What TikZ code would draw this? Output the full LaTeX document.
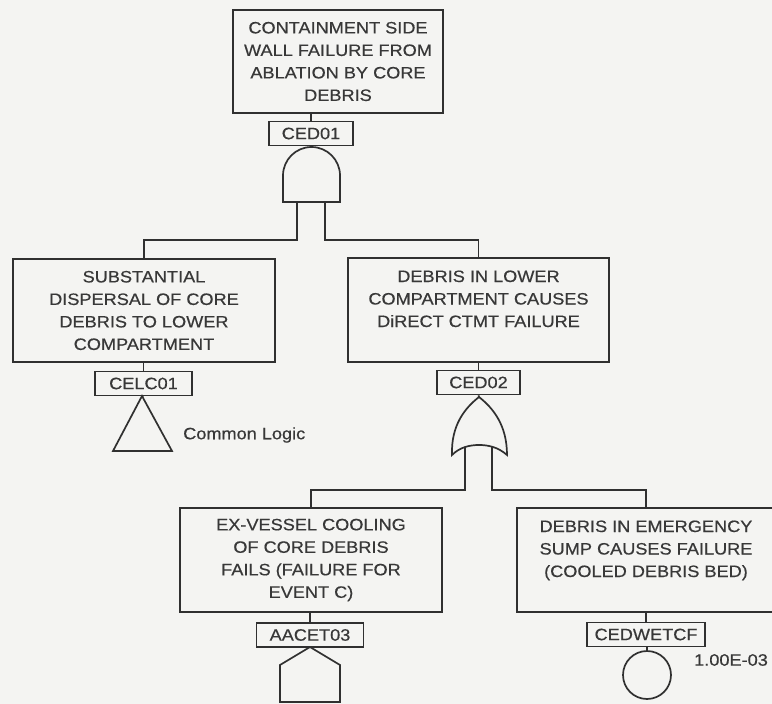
\documentclass[tikz,border=0pt]{standalone}
\usepackage{fontspec}
\setmainfont{Liberation Sans}[FakeStretch=1.1,FakeBold=0.5]
\definecolor{ftink}{HTML}{303030}
\definecolor{ftpaper}{HTML}{F4F4F2}
\definecolor{fttext}{HTML}{383838}

\tikzset{
  evbox/.style={draw=ftink,line width=1.7pt,minimum width=262,minimum height=104,
                align=center,inner sep=0pt},
  tagbox/.style={draw=ftink,line width=1.7pt,minimum height=24,inner sep=0pt},
  wire/.style={ftink,line width=1.7pt},
}

\begin{document}
\begin{tikzpicture}[x=1pt,y=-1pt,font=\fontsize{16.5}{22.5}\selectfont,text=fttext]

  % ---- paper ----
  \fill[ftpaper] (0,0) rectangle (772,704);
  \useasboundingbox (0,0) rectangle (772,704);

  % ---- event boxes ----
  \node[evbox,minimum width=210,minimum height=103] (top) at (338,61.5)
        {CONTAINMENT SIDE\\WALL FAILURE FROM\\ABLATION BY CORE\\DEBRIS};
  \node[evbox,minimum height=103] (sub) at (144,310.5)
        {SUBSTANTIAL\\DISPERSAL OF CORE\\DEBRIS TO LOWER\\COMPARTMENT};
  \node[evbox,minimum width=261] (dlc) at (478.5,310)
        {DEBRIS IN LOWER\\COMPARTMENT CAUSES\\DiRECT CTMT FAILURE\\~};
  \node[evbox] (exv) at (311,560)
        {EX-VESSEL COOLING\\OF CORE DEBRIS\\FAILS (FAILURE FOR\\EVENT C)};
  \node[evbox,minimum width=258] (sump) at (646,560)
        {DEBRIS IN EMERGENCY\\SUMP CAUSES FAILURE\\(COOLED DEBRIS BED)\\~};

  % ---- tags ----
  \node[tagbox,minimum width=84] (ced01) at (311,133.5) {CED01};
  \node[tagbox,minimum width=97] (celc01) at (143.5,383.5) {CELC01};
  \node[tagbox,minimum width=83] (ced02) at (478.5,382.5) {CED02};
  \node[tagbox,minimum width=107] (aacet03) at (310,635) {AACET03};
  \node[tagbox,minimum width=118] (cedwetcf) at (646,634.5) {CEDWETCF};

  % ---- AND gate ----
  \coordinate (andtop) at (311.5,147);
  \coordinate (andL) at (297,202);
  \coordinate (andR) at (325,202);
  \draw[wire,fill=ftpaper] (283,202) -- (283,175.5)
        .. controls (283,159.8) and (295.8,147) .. (andtop)
        .. controls (327.2,147) and (340,159.8) .. (340,175.5)
        -- (340,202) -- cycle;

  % ---- OR gate ----
  \coordinate (ortop) at (479,397);
  \coordinate (orL) at (465,447);
  \coordinate (orR) at (492,447);
  \draw[wire,fill=ftpaper] (452,455)
        .. controls (451,425) and (465,408) .. (ortop)
        .. controls (493,408) and (507,425) .. (507,455)
        .. controls (498,447) and (488,445) .. (479,445)
        .. controls (470,445) and (460,447) .. cycle;

  % ---- transfer triangle, house event, basic event ----
  \coordinate (triapex) at (142,396);
  \draw[wire] (triapex) -- (172,451) -- (113,451) -- cycle;
  \coordinate (houseapex) at (310,647);
  \draw[wire] (houseapex) -- (340,665) -- (340,702) -- (280,702) -- (280,665) -- cycle;
  \node[draw=ftink,line width=1.7pt,circle,minimum size=48,inner sep=0pt] (basic) at (647,675) {};

  % ---- connectors ----
  \draw[wire] (top.south -| ced01.north) -- (ced01.north);
  \draw[wire] (ced01.south) -- (andtop);
  \draw[wire] (andL) -- (297,240) -| (sub.north);
  \draw[wire] (andR) -- (325,240) -| (dlc.north);
  \draw[wire] (sub.south -| celc01.north) -- (celc01.north);
  \draw[wire] (celc01.south) -- (triapex);
  \draw[wire] (dlc.south) -- (ced02.north);
  \draw[wire] (ced02.south) -- (ortop);
  \draw[wire] (orL) -- (465,490) -| (exv.north);
  \draw[wire] (orR) -- (492,490) -| (sump.north);
  \draw[wire] (exv.south -| aacet03.north) -- (aacet03.north);
  \draw[wire] (aacet03.south) -- (houseapex);
  \draw[wire] (sump.south -| cedwetcf.north) -- (cedwetcf.north);
  \draw[wire] (cedwetcf.south -| basic.north) -- (basic.north);

  % ---- side notes ----
  \node[anchor=west,inner sep=0pt] (commonlogic) at (183,435) {Common Logic};
  \node[anchor=west,inner sep=0pt] (prob) at (694,660) {1.00E-03};

\end{tikzpicture}
\end{document}
